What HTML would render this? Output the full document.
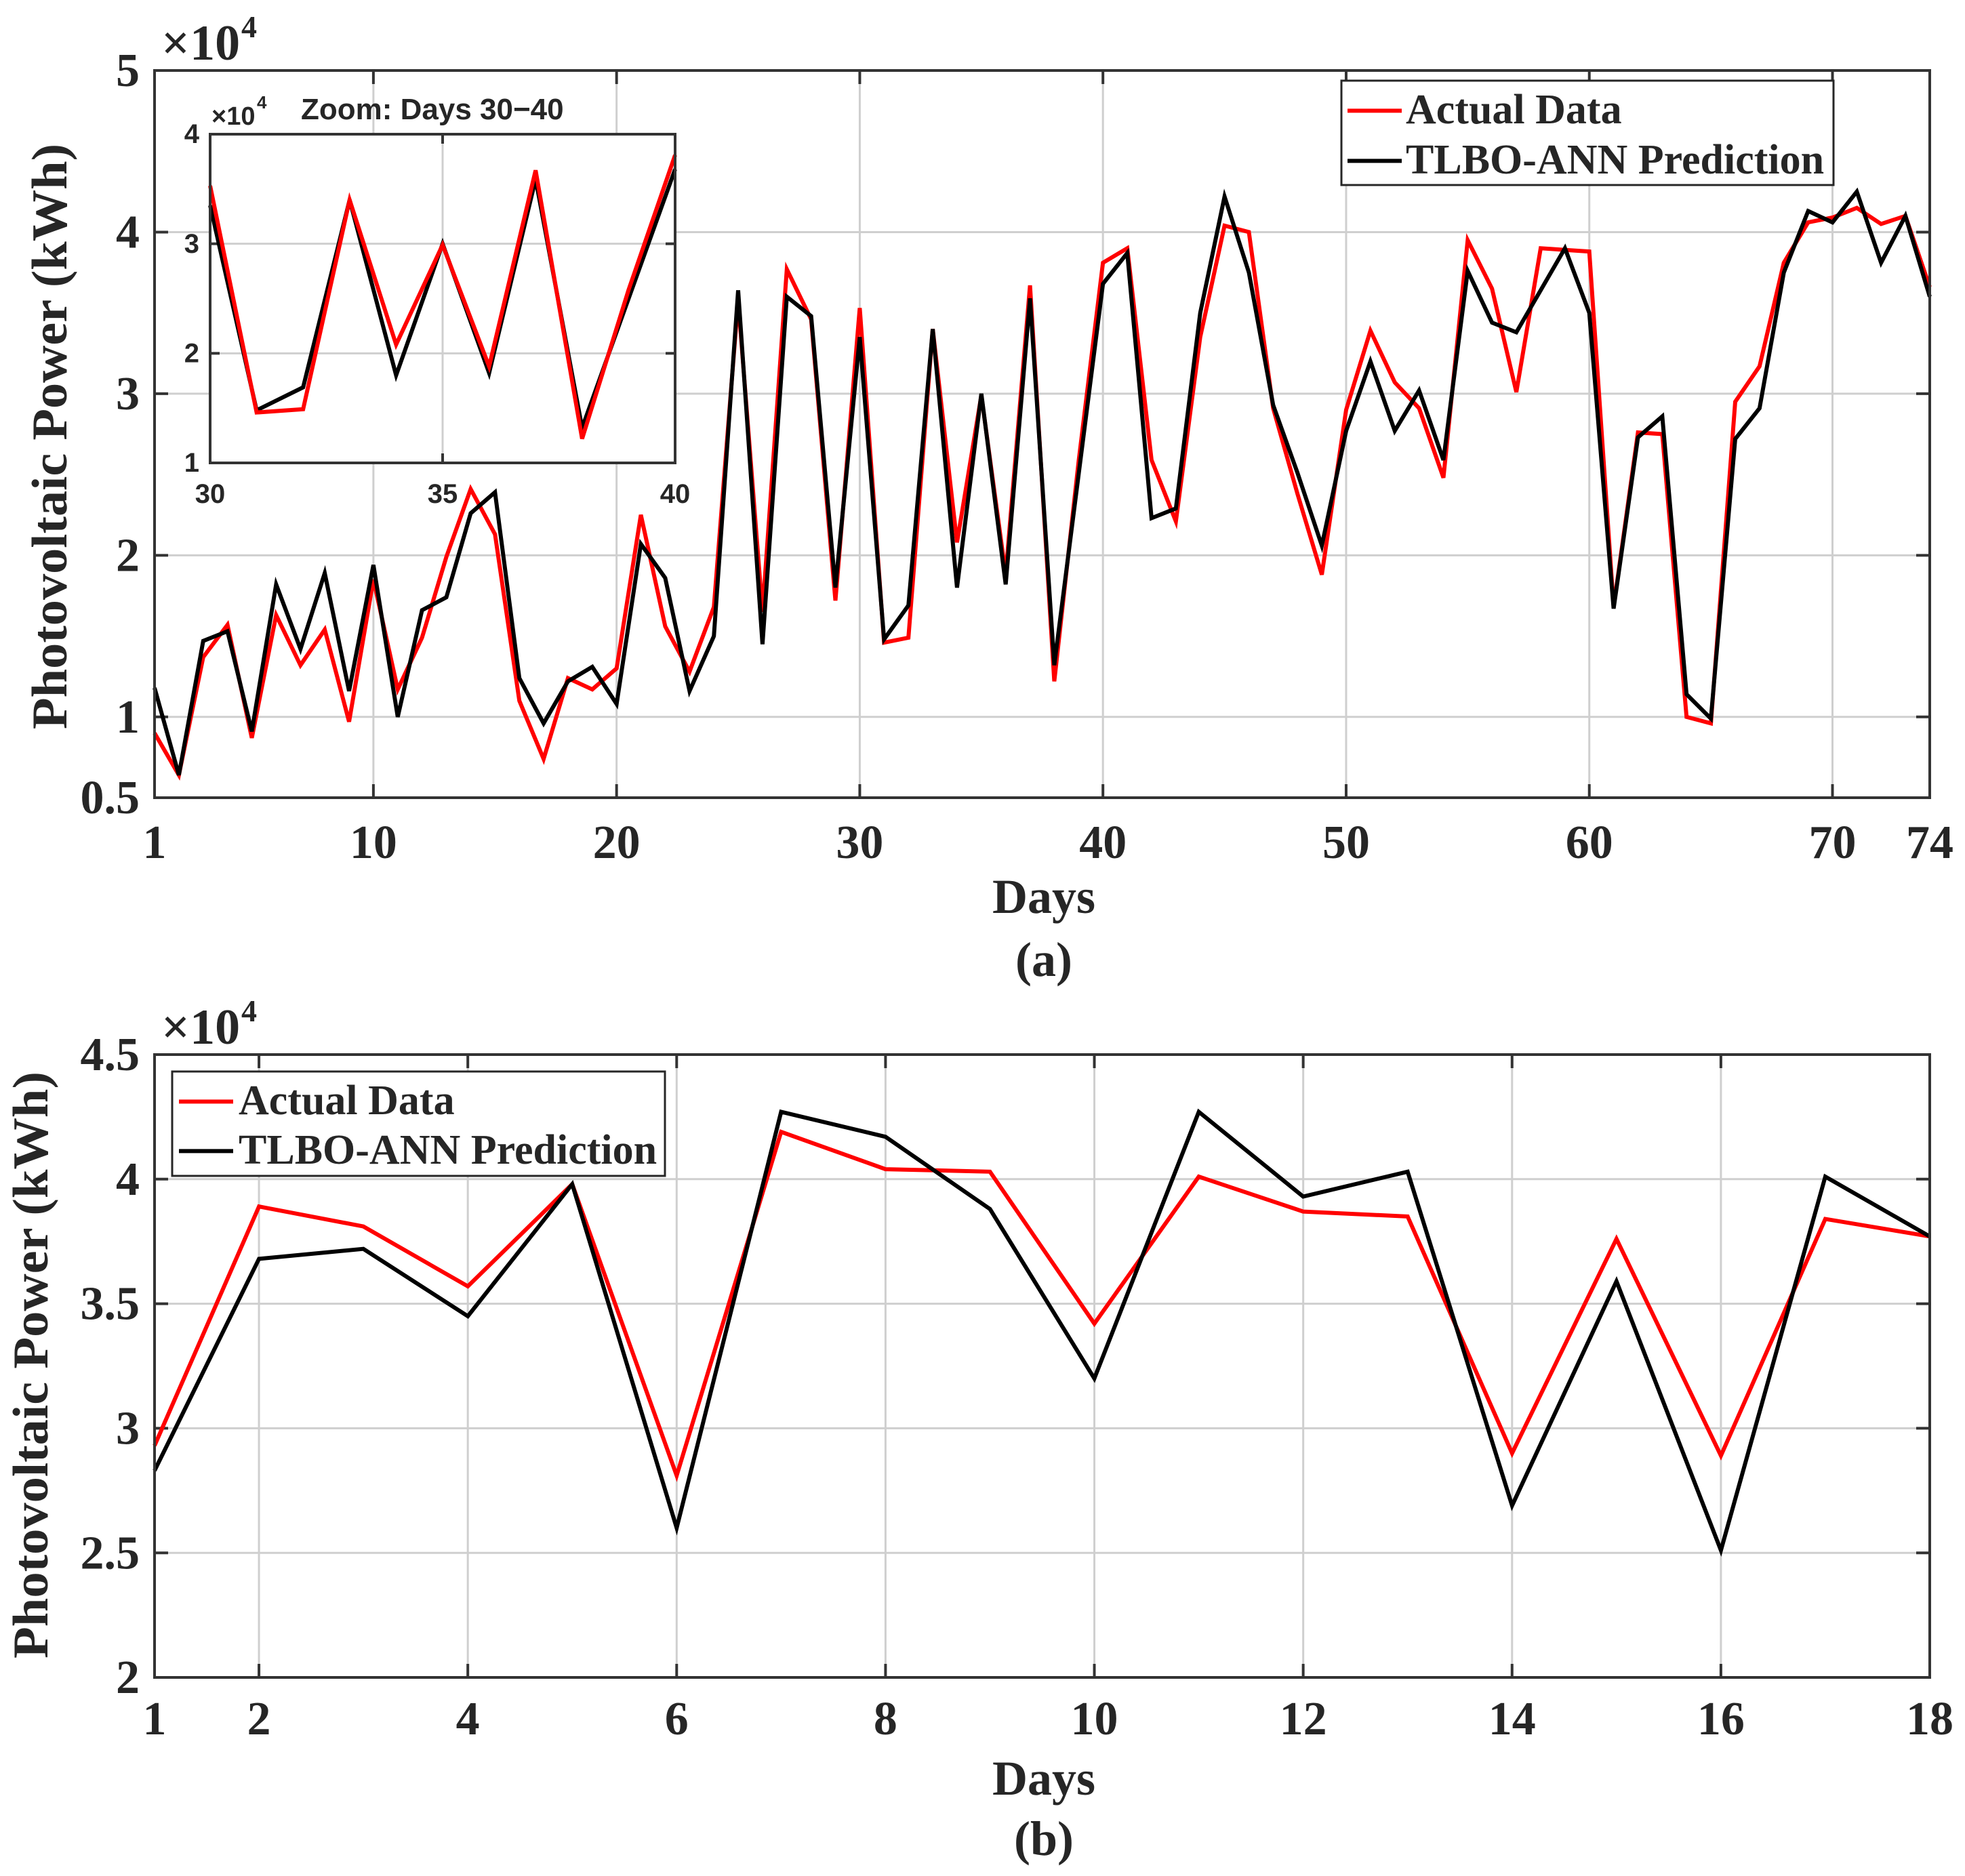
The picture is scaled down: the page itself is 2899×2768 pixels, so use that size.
<!DOCTYPE html>
<html><head><meta charset="utf-8"><style>
html,body{margin:0;padding:0;background:#fff;}
svg{display:block;}
text{font-family:"Liberation Serif",serif;font-weight:bold;fill:#262626;}
.ar{font-family:"Liberation Sans",sans-serif;}
</style></head><body>
<svg id="svg" width="2899" height="2768" viewBox="0 0 2899 2768" xmlns="http://www.w3.org/2000/svg"></svg>
<script>
// ---- Panel (a) data (units of 1e4 kWh) ----
const daysA = Array.from({length:74},(_,i)=>i+1);
const actualA = [0.90,0.64,1.37,1.57,0.87,1.63,1.32,1.54,0.97,1.85,1.17,1.49,1.99,2.41,2.13,1.10,0.74,1.24,1.17,1.30,2.25,1.56,1.28,1.68,3.58,1.65,3.77,3.46,1.72,3.53,1.46,1.49,3.40,2.08,2.99,1.88,3.67,1.22,2.58,3.81,3.90,2.59,2.21,3.35,4.04,4.00,2.91,2.38,1.88,2.90,3.39,3.07,2.91,2.48,3.95,3.65,3.01,3.90,3.89,3.88,1.68,2.76,2.75,1.00,0.96,2.95,3.17,3.81,4.06,4.09,4.15,4.05,4.10,3.66];
const predA = [1.18,0.64,1.47,1.53,0.91,1.82,1.42,1.89,1.16,1.94,1.00,1.66,1.74,2.26,2.39,1.24,0.96,1.22,1.31,1.08,2.07,1.86,1.16,1.50,3.64,1.45,3.60,3.48,1.80,3.35,1.48,1.69,3.40,1.80,3.00,1.82,3.59,1.32,2.50,3.68,3.87,2.23,2.29,3.50,4.22,3.75,2.93,2.51,2.06,2.77,3.20,2.77,3.02,2.59,3.76,3.44,3.38,3.64,3.90,3.50,1.67,2.73,2.86,1.14,0.99,2.72,2.91,3.75,4.13,4.06,4.25,3.81,4.10,3.60];
const xTicksA = [1,10,20,30,40,50,60,70,74];
const yTicksA = [0.5,1,2,3,4,5];
const yTickLabelsA = ["0.5","1","2","3","4","5"];
const yGridA = [1,2,3,4];
// inset
const xTicksIn = [30,35,40];
const yTicksIn = [1,2,3,4];
// ---- Panel (b) data ----
const daysB = Array.from({length:18},(_,i)=>i+1);
const actualB = [2.93,3.89,3.81,3.57,3.98,2.81,4.19,4.04,4.03,3.42,4.01,3.87,3.85,2.90,3.76,2.89,3.84,3.77];
const predB = [2.83,3.68,3.72,3.45,3.98,2.60,4.27,4.17,3.88,3.20,4.27,3.93,4.03,2.69,3.59,2.51,4.01,3.77];
const xTicksB = [1,2,4,6,8,10,12,14,16,18];
const yTicksB = [2,2.5,3,3.5,4,4.5];
const yTickLabelsB = ["2","2.5","3","3.5","4","4.5"];

const NS="http://www.w3.org/2000/svg";
const svg=document.getElementById('svg');
function el(tag,attrs,parent,txt){const e=document.createElementNS(NS,tag);for(const k in attrs)e.setAttribute(k,attrs[k]);if(txt!==undefined)e.textContent=txt;(parent||svg).appendChild(e);return e;}
function scale(d0,d1,r0,r1){return v=>r0+(v-d0)/(d1-d0)*(r1-r0);}
function pathD(xs,ys,sx,sy){return xs.map((x,i)=>(i?'L':'M')+sx(x).toFixed(1)+','+sy(ys[i]).toFixed(1)).join(' ');}

function axesPanel(o){
  const g=el('g',{});
  
  
  const sx=scale(o.xd[0],o.xd[1],o.L,o.R), sy=scale(o.yd[0],o.yd[1],o.B,o.T);
  el('rect',{x:o.L,y:o.T,width:o.R-o.L,height:o.B-o.T,fill:'#fff'},g);
  o.xTicks.forEach(t=>{
    if(t!==o.xd[0]&&t!==o.xd[1]){const l=el('line',{x1:sx(t),x2:sx(t),y1:o.T,y2:o.B,stroke:'#cfcfcf','stroke-width':o.gw},g);}
  });
  o.yGrid.forEach(t=>{const l=el('line',{x1:o.L,x2:o.R,y1:sy(t),y2:sy(t),stroke:'#cfcfcf','stroke-width':o.gw},g);});
  o.xTicks.forEach(t=>{
    el('line',{x1:sx(t),x2:sx(t),y1:o.B,y2:o.B-o.tl,stroke:'#333','stroke-width':o.aw},g);
    el('line',{x1:sx(t),x2:sx(t),y1:o.T,y2:o.T+o.tl,stroke:'#333','stroke-width':o.aw},g);
    const tx=el('text',{x:sx(t),y:o.xLabY,'text-anchor':'middle','font-size':o.fs,class:o.cls||''},g,String(t));
    
  });
  o.yTicks.forEach((t,i)=>{
    el('line',{x1:o.L,x2:o.L+o.tl,y1:sy(t),y2:sy(t),stroke:'#333','stroke-width':o.aw},g);
    el('line',{x1:o.R,x2:o.R-o.tl,y1:sy(t),y2:sy(t),stroke:'#333','stroke-width':o.aw},g);
    const tx=el('text',{x:o.yLabX,y:sy(t)+o.fs*0.33,'text-anchor':'end','font-size':o.fs,class:o.cls||''},g,o.yLabels[i]);
    
  });
  o.series.forEach(s=>{
    const p=el('path',{d:pathD(s.x,s.y,sx,sy),fill:'none',stroke:s.c,'stroke-width':o.lw,'stroke-linejoin':'miter'},g);
    
  });
  el('rect',{x:o.L,y:o.T,width:o.R-o.L,height:o.B-o.T,fill:'none',stroke:'#333','stroke-width':o.aw},g);
  return g;
}

function legend(x,y,w,h,lx1,lx2,tx,b1,b2,fs,name){
  const g=el('g',{});
  
  
  el('rect',{x:x,y:y,width:w,height:h,fill:'#fff',stroke:'#262626','stroke-width':3},g);
  el('line',{x1:lx1,x2:lx2,y1:b1-fs*0.3,y2:b1-fs*0.3,stroke:'#ff0000','stroke-width':6},g);
  const t1=el('text',{x:tx,y:b1,'font-size':fs},g,'Actual Data');
  
  el('line',{x1:lx1,x2:lx2,y1:b2-fs*0.3,y2:b2-fs*0.3,stroke:'#000','stroke-width':6},g);
  const t2=el('text',{x:tx,y:b2,'font-size':fs},g,'TLBO-ANN Prediction');
  
}

// Panel (a)
axesPanel({name:'panel-a',L:228,R:2847,T:104,B:1177,xd:[1,74],yd:[0.5,5],xTicks:xTicksA,yTicks:yTicksA,yLabels:yTickLabelsA,yGrid:yGridA,
  gw:3,aw:4,tl:20,lw:6,fs:70,xLabY:1266,yLabX:206,
  series:[{x:daysA,y:actualA,c:'#ff0000',name:'actual-line-a'},{x:daysA,y:predA,c:'#000',name:'prediction-line-a'}]});
el('text',{x:238,y:88,'font-size':74,'font-weight':'normal'},svg,'×10');
el('text',{x:356,y:55,'font-size':46,'font-weight':'normal'},svg,'4');
legend(1979,119,726,154,1988,2068,2074,182,256,62,'legend-a');

// Inset
axesPanel({name:'inset-zoom',L:310,R:996,T:198,B:683,xd:[30,40],yd:[1,4],xTicks:xTicksIn,yTicks:yTicksIn,yLabels:yTicksIn.map(String),yGrid:[2,3],
  gw:3,aw:4,tl:14,lw:6,fs:40,xLabY:742,yLabX:294,cls:'ar',
  series:[{x:daysA.slice(29,40),y:predA.slice(29,40),c:'#000',name:'prediction-line-inset'},{x:daysA.slice(29,40),y:actualA.slice(29,40),c:'#ff0000',name:'actual-line-inset'}]});
el('text',{x:312,y:184,'font-size':38,class:'ar','font-weight':'normal'},svg,'×10');
el('text',{x:379,y:160,'font-size':26,class:'ar','font-weight':'normal'},svg,'4');
el('text',{x:444,y:176,'font-size':44,class:'ar'},svg,'Zoom: Days 30−40');

el('text',{x:1540,y:1347,'text-anchor':'middle','font-size':72},svg,'Days');
el('text',{x:1540,y:1440,'text-anchor':'middle','font-size':72},svg,'(a)');
const yt1=el('text',{x:0,y:0,'text-anchor':'middle','font-size':74,transform:'translate(98,644) rotate(-90)',textLength:864,lengthAdjust:'spacingAndGlyphs'},svg,'Photovoltaic Power (kWh)');


// Panel (b)
axesPanel({name:'panel-b',L:228,R:2847,T:1556,B:2475,xd:[1,18],yd:[2,4.5],xTicks:xTicksB,yTicks:yTicksB,yLabels:yTickLabelsB,yGrid:[2.5,3,3.5,4],
  gw:3,aw:4,tl:20,lw:6,fs:70,xLabY:2559,yLabX:206,
  series:[{x:daysB,y:actualB,c:'#ff0000',name:'actual-line-b'},{x:daysB,y:predB,c:'#000',name:'prediction-line-b'}]});
el('text',{x:238,y:1540,'font-size':74,'font-weight':'normal'},svg,'×10');
el('text',{x:356,y:1507,'font-size':46,'font-weight':'normal'},svg,'4');
legend(254,1581,727,154,264,344,352,1644,1717,62,'legend-b');
el('text',{x:1540,y:2648,'text-anchor':'middle','font-size':72},svg,'Days');
el('text',{x:1540,y:2737,'text-anchor':'middle','font-size':72},svg,'(b)');
const yt2=el('text',{x:0,y:0,'text-anchor':'middle','font-size':74,transform:'translate(70,2014) rotate(-90)',textLength:866,lengthAdjust:'spacingAndGlyphs'},svg,'Photovoltaic Power (kWh)');

</script>
</body></html>
